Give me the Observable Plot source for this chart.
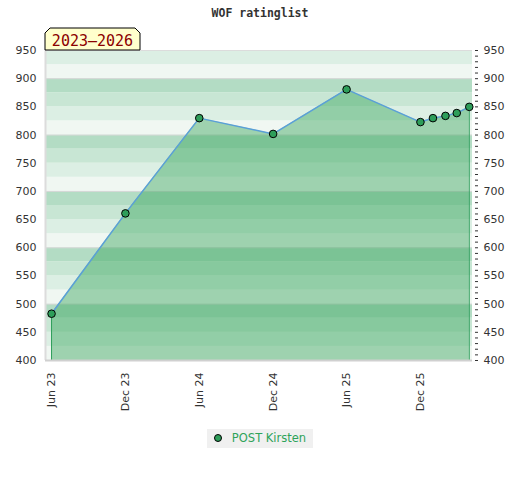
<!DOCTYPE html>
<html>
<head>
<meta charset="utf-8">
<script src="https://cdn.jsdelivr.net/npm/d3@7"></script>
<script src="https://cdn.jsdelivr.net/npm/@observablehq/plot@0.6"></script>
<style>
  body { margin: 0; background: #fff; width: 520px; height: 480px; overflow: hidden; }
  #title { box-sizing: border-box; height: 26px; padding-top: 6px; line-height: 14px; text-align: center; font: bold 11.5px "DejaVu Sans Mono", monospace; color: #333; }
  #chart svg { display: block; }
  #legend { margin-top: 12px; text-align: center; height: 19px; }
  #legend .box { display: inline-flex; align-items: center; background: #f0f0f0; height: 19px; padding: 0 7px 0 7px; font: 11.5px "DejaVu Sans", sans-serif; color: #2ea35a; }
  #legend .dot { display: inline-block; width: 6px; height: 6px; border-radius: 50%; background: #2e9e5a; border: 1px solid #000; margin-right: 10px; }
</style>
</head>
<body>
<div id="title">WOF ratinglist</div>
<div id="chart"></div>
<div id="legend"><span class="box"><span class="dot"></span>POST Kirsten</span></div>
<script>
const seriesName = "POST Kirsten";
const dates = ["2023-06-01","2023-12-01","2024-06-01","2024-12-01","2025-06-01","2025-12-01","2026-01-01","2026-02-01","2026-03-01","2026-04-01"];
const ratings = [483, 661, 830, 802, 881, 823, 830, 834, 839, 850];
const xTickDates = ["2023-06-01","2023-12-01","2024-06-01","2024-12-01","2025-06-01","2025-12-01"];
const yTicks = [400, 450, 500, 550, 600, 650, 700, 750, 800, 850, 900, 950];
const yGrid = [500, 600, 700, 800, 900];
const bandColors = ["#f0f7f2", "#dcefe4", "#c8e6d4", "#b3dcc4"];
const periodLabel = "2023\u20132026";

const data = dates.map((d, i) => ({date: new Date(d), rating: ratings[i]}));
const edges = [data[0], data[data.length - 1]];
const bands = d3.range(400, 950, 25).map(lo => ({lo, hi: lo + 25, c: bandColors[(lo % 100) / 25]}));
const minorTicks = d3.range(400, 951, 10);
const green = "rgb(53,165,89)";

const chart = Plot.plot({
  width: 520,
  height: 390,
  marginTop: 24,
  marginLeft: 45,
  marginRight: 48,
  marginBottom: 56,
  style: {fontFamily: "'DejaVu Sans', sans-serif", fontSize: "11px", color: "#333", background: "transparent"},
  x: {type: "utc", domain: [new Date("2023-05-17"), new Date("2026-04-09")]},
  y: {domain: [400, 950]},
  marks: [
    Plot.rect(bands, {y1: "lo", y2: "hi", fill: "c"}),
    Plot.ruleY(yGrid, {stroke: "#d8d8d8", strokeWidth: 1}),
    Plot.ruleY([950], {stroke: "#dcdcdc", strokeWidth: 1}),
    Plot.areaY(data, {x: "date", y1: 400, y2: "rating", fill: green, fillOpacity: 0.44}),
    Plot.ruleX(edges, {x: "date", y1: 400, y2: "rating", stroke: "#2e9e5a", strokeWidth: 1}),
    Plot.ruleX([new Date("2023-05-17")], {stroke: "#dcdcdc", strokeWidth: 2}),
    Plot.ruleY([400], {stroke: "#d0d0d0", strokeWidth: 2}),
    Plot.line(data, {x: "date", y: "rating", stroke: "#5a9fd8", strokeWidth: 1.5}),
    Plot.dot(data, {x: "date", y: "rating", r: 3.8, fill: "#2e9e5a", stroke: "#000", strokeWidth: 1}),
    Plot.axisY(yTicks, {anchor: "left", tickSize: 0, tickPadding: 9, fontSize: 11}),
    Plot.axisY(minorTicks, {anchor: "right", tickSize: 3, tickFormat: () => "", dx: 2}),
    Plot.axisY(yTicks, {anchor: "right", tickSize: 0, tickPadding: 11, fontSize: 11}),
    Plot.axisX(xTickDates.map(d => new Date(d)), {anchor: "bottom", tickSize: 0, tickPadding: 12, tickRotate: -90, tickFormat: d3.utcFormat("%b %y"), fontSize: 11})
  ]
});
document.getElementById("chart").append(chart);

// period label box in the top-left corner of the plot frame
const svg = d3.select(chart);
const g = svg.append("g");
const x0 = 45, x1 = 140, yTop = 2, yBot = 24, c = 5;
g.append("path")
  .attr("d", `M${x0},${yBot}L${x0},${yTop + c}L${x0 + c},${yTop}L${x1 - c},${yTop}L${x1},${yTop + c}L${x1},${yBot}Z`)
  .attr("fill", "#ffffcc").attr("stroke", "#000").attr("stroke-width", 1);
g.append("text")
  .attr("x", (x0 + x1) / 2).attr("y", yBot - 4.5)
  .attr("text-anchor", "middle")
  .attr("fill", "#8b0000")
  .style("font", "15px 'DejaVu Sans Mono', monospace")
  .text(periodLabel);
</script>
</body>
</html>
